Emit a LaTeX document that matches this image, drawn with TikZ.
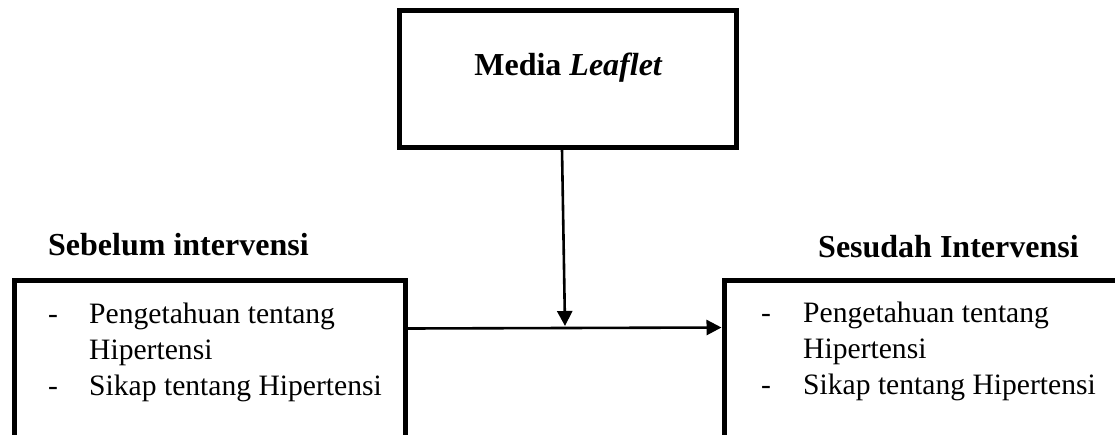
\documentclass[tikz,border=0pt]{standalone}
\usepackage{fontspec}
\setmainfont{Liberation Serif}
\usetikzlibrary{arrows.meta,calc}
\tikzset{
  box/.style={draw=black, line width=5pt, rectangle, inner sep=0pt},
  conn/.style={draw=black, line width=2.6pt, -{Triangle[length=15pt,width=15pt]}},
  title/.style={inner sep=0pt, anchor=base west, font=\fontsize{32}{38}\selectfont\bfseries},
  body/.style={inner sep=0pt, anchor=base west, font=\fontsize{29.6}{36}\selectfont}
}
\begin{document}
\begin{tikzpicture}[x=1pt,y=1pt]
\clip (0,0) rectangle (1115,-434);
\fill[white] (0,0) rectangle (1115,-434);
% boxes
\node[box, minimum width=337pt, minimum height=137pt] (top) at (567.5,-78.5) {};
\node[box, minimum width=391pt, minimum height=200pt] (lbox) at (209.5,-380) {};
\node[box, minimum width=420pt, minimum height=200pt] (rbox) at (934,-380) {};
% texts
\node[title, anchor=base] (ttext) at (568.5,-75) {Media \textit{Leaflet}};
\node[title] (ltitle) at (48,-255) {Sebelum intervensi};
\node[title] (rtitle) at (818,-257) {Sesudah Intervensi};
\node[body] (ltext) at (48,-323) {\begin{tabular}[t]{@{}p{41pt}@{}l@{}}- & Pengetahuan tentang\\ & Hipertensi\\ - & Sikap tentang Hipertensi\end{tabular}};
\node[body] (rtext) at (761,-322) {\begin{tabular}[t]{@{}p{42pt}@{}l@{}}- & Pengetahuan tentang\\ & Hipertensi\\ - & Sikap tentang Hipertensi\end{tabular}};
% connectors
\coordinate (m) at (565,-326);
\draw[conn] ($(lbox.north east)+(0,-51)$) -- ($(rbox.north west)+(0,-50)$);
\draw[conn] ($(top.south)+(-5.5,0)$) -- (m);
\end{tikzpicture}
\end{document}
